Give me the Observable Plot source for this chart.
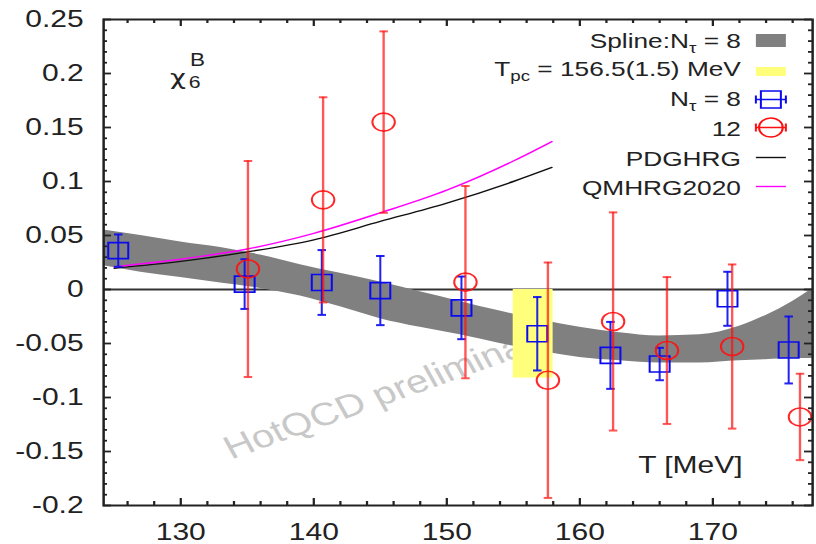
<!DOCTYPE html>
<html>
<head>
<meta charset="utf-8">
<script src="https://cdn.jsdelivr.net/npm/d3@7"></script>
<script src="https://cdn.jsdelivr.net/npm/@observablehq/plot@0.6"></script>
<style>
  html, body { margin: 0; padding: 0; background: #fff; }
  #chart svg { display: block; }
</style>
</head>
<body>
<div id="chart"></div>
<script>
// ---- spline band for N_tau = 8 (upper / lower edge) ----
const splineT  = [124.2, 127, 130, 133, 136, 139, 142, 145, 148, 151, 154, 157, 160, 163, 166, 169, 172, 174, 176, 177.5];
const splineHi = [0.055, 0.050, 0.044, 0.039, 0.032, 0.023, 0.015, 0.007, -0.002, -0.011, -0.020, -0.028, -0.035, -0.040, -0.043, -0.042, -0.034, -0.024, -0.011, 0.001];
const splineLo = [0.022, 0.016, 0.011, 0.006, 0.001, -0.006, -0.016, -0.027, -0.035, -0.042, -0.050, -0.057, -0.063, -0.066, -0.068, -0.068, -0.066, -0.065, -0.064, -0.064];

// ---- lattice data, N_tau = 8 ----
const nt8T   = [125.3, 134.8, 140.6, 145.0, 151.1, 156.8, 162.3, 166.0, 171.1, 175.7];
const nt8Val = [0.036, 0.005, 0.0065, -0.001, -0.017, -0.041, -0.061, -0.069, -0.0086, -0.056];
const nt8Err = [0.015, 0.023, 0.030, 0.032, 0.029, 0.034, 0.031, 0.015, 0.025, 0.031];

// ---- lattice data, N_tau = 12 ----
const nt12T   = [135.05, 140.7, 145.25, 151.4, 157.6, 162.5, 166.55, 171.45, 176.55];
const nt12Val = [0.019, 0.083, 0.155, 0.0068, -0.084, -0.0296, -0.0565, -0.0528, -0.118];
const nt12Err = [0.100, 0.095, 0.084, 0.089, 0.109, 0.101, 0.068, 0.076, 0.040];

// ---- hadron resonance gas curves ----
const hrgT   = [125, 130, 135, 140, 145, 150, 155, 157.9];
const pdgHRG = [0.0197, 0.026, 0.0348, 0.046, 0.063, 0.080, 0.100, 0.113];
const qmHRG  = [0.021, 0.028, 0.0375, 0.052, 0.071, 0.092, 0.119, 0.137];

// ---- pseudo-critical temperature band ----
const tpc = 156.5, tpcErr = 1.5;
const tpcBoxTop = 0, tpcBoxBottom = -0.082;

// ---- axes ----
const xDomain = [124.2, 177.5];
const yDomain = [-0.2, 0.25];
const xTicks = [130, 140, 150, 160, 170];
const yTicks = [-0.2, -0.15, -0.1, -0.05, 0, 0.05, 0.1, 0.15, 0.2, 0.25];
const xMinor = d3.range(126, 178, 2).filter(v => v % 10 !== 0);
const yMinor = d3.range(-20, 26).filter(i => i % 5 !== 0).map(i => i / 100);

const legendLabels = ["Spline:N_{τ} = 8", "T_{pc} = 156.5(1.5) MeV", "N_{τ} = 8", "12", "PDGHRG", "QMHRG2020"];
const xLabel = "T [MeV]";
const watermark = "HotQCD preliminary";

// tables for the marks
const band = splineT.map((T, i) => ({T, hi: splineHi[i], lo: splineLo[i]}));
const nt8 = nt8T.map((T, i) => ({T, v: nt8Val[i], e: nt8Err[i]}));
const nt12 = nt12T.map((T, i) => ({T, v: nt12Val[i], e: nt12Err[i]}));
const hrg = hrgT.map((T, i) => ({T, pdg: pdgHRG[i], qm: qmHRG[i]}));

// the drawing is laid out narrow and stretched horizontally to the output width
const OUT_W = 816, H = 544, S = 1.25, W = OUT_W / S;
const mLeft = 82.4, mRight = 3.2, mTop = 19, mBottom = 39;
const frameW = W - mLeft - mRight, frameH = H - mTop - mBottom;

const BLUE = "#0a0aef", RED = "#ff1010", GRAY = "#808080", YELLOW = "#ffff7c", MAGENTA = "#ff00ff";
const AXIS = "#222";

// custom symbols
const capSym = {draw(c) { c.moveTo(-3.4, 0); c.lineTo(3.4, 0); }};
const squareSym = {draw(c) { c.rect(-8, -8, 16, 16); }};
const circleSym = {draw(c) { c.moveTo(9, 0); c.arc(0, 0, 9, 0, 2 * Math.PI); }};
const swatchSpline = {draw(c) { c.rect(-12, -6.5, 24, 13); }};
const swatchTpc = {draw(c) { c.rect(-12, -4.5, 24, 9); }};
const keyLine = {draw(c) { c.moveTo(-12, 0); c.lineTo(12, 0); }};
const keyBlue = {draw(c) {
  c.moveTo(-12, 0); c.lineTo(12, 0);
  c.moveTo(-12, -4); c.lineTo(-12, 4);
  c.moveTo(12, -4); c.lineTo(12, 4);
  c.rect(-8, -8.5, 16, 17);
}};
const keyRed = {draw(c) {
  c.moveTo(-12, 0); c.lineTo(12, 0);
  c.moveTo(-12, -4); c.lineTo(-12, 4);
  c.moveTo(12, -4); c.lineTo(12, 4);
  c.moveTo(9.5, 0); c.arc(0, 0, 9.5, 0, 2 * Math.PI);
}};

const textDx = -57.4, symDx = -33.4;
const textRows = [14, 42, 72, 102, 132, 161];
const symRows = [21, 52, 80, 108, 138, 167];
const legendFont = 21;

const legendText = legendLabels.map((lab, i) => Plot.text([lab], {
  text: d => d, frameAnchor: "top-right", textAnchor: "end",
  dx: textDx, dy: textRows[i], fontSize: legendFont, fill: "#222"
}));

const legendSyms = [
  Plot.dot([0], {frameAnchor: "top-right", dx: symDx, dy: symRows[0], symbol: swatchSpline, fill: GRAY, stroke: "none"}),
  Plot.dot([0], {frameAnchor: "top-right", dx: symDx, dy: symRows[1], symbol: swatchTpc, fill: YELLOW, stroke: "none"}),
  Plot.dot([0], {frameAnchor: "top-right", dx: symDx, dy: symRows[2], symbol: keyBlue, fill: "none", stroke: BLUE, strokeWidth: 1.6}),
  Plot.dot([0], {frameAnchor: "top-right", dx: symDx, dy: symRows[3], symbol: keyRed, fill: "none", stroke: RED, strokeWidth: 1.6}),
  Plot.dot([0], {frameAnchor: "top-right", dx: symDx, dy: symRows[4], symbol: keyLine, fill: "none", stroke: "#111", strokeWidth: 1.4}),
  Plot.dot([0], {frameAnchor: "top-right", dx: symDx, dy: symRows[5], symbol: keyLine, fill: "none", stroke: MAGENTA, strokeWidth: 1.4})
];

const errorBars = (data, color, width, opacity) => [
  Plot.ruleX(data, {x: "T", y1: d => d.v - d.e, y2: d => d.v + d.e, stroke: color, strokeWidth: width, strokeOpacity: opacity}),
  Plot.dot(data, {x: "T", y: d => d.v + d.e, symbol: capSym, fill: "none", stroke: color, strokeWidth: 2, strokeOpacity: opacity}),
  Plot.dot(data, {x: "T", y: d => d.v - d.e, symbol: capSym, fill: "none", stroke: color, strokeWidth: 2, strokeOpacity: opacity})
];

const svg = Plot.plot({
  width: W,
  height: H,
  marginLeft: mLeft,
  marginRight: mRight,
  marginTop: mTop,
  marginBottom: mBottom,
  style: {
    fontFamily: "'Liberation Sans', Arial, Helvetica, sans-serif",
    fontSize: "24px",
    color: AXIS,
    background: "#fff",
    overflow: "visible"
  },
  x: {domain: xDomain, ticks: xTicks, tickSize: 0, tickPadding: 17, tickFormat: d => String(d), label: null},
  y: {domain: yDomain, ticks: yTicks, tickSize: 0, tickPadding: 16, tickFormat: d => String(+d.toFixed(2)), label: null},
  marks: [
    // watermark
    Plot.text([watermark], {
      text: d => d, frameAnchor: "bottom-left", textAnchor: "start",
      dx: 102, dy: -46, rotate: -24, fontSize: 32, fill: "#c8c8c8"
    }),
    // zero line
    Plot.ruleY([0], {stroke: "#333", strokeWidth: 1.8}),
    // spline band
    Plot.areaY(band, {x: "T", y1: "lo", y2: "hi", fill: GRAY, curve: "monotone-x"}),
    // T_pc band
    Plot.rect([{x1: tpc - tpcErr, x2: tpc + tpcErr, y1: tpcBoxBottom, y2: tpcBoxTop}],
      {x1: "x1", x2: "x2", y1: "y1", y2: "y2", fill: YELLOW}),
    // HRG curves
    Plot.line(hrg, {x: "T", y: "pdg", stroke: "#111", strokeWidth: 1.4, curve: "monotone-x"}),
    Plot.line(hrg, {x: "T", y: "qm", stroke: MAGENTA, strokeWidth: 1.4, curve: "monotone-x"}),
    // N_tau = 8
    ...errorBars(nt8, BLUE, 1.6, 0.9),
    Plot.dot(nt8, {x: "T", y: "v", symbol: squareSym, fill: "none", stroke: BLUE, strokeWidth: 1.6}),
    // N_tau = 12
    ...errorBars(nt12, RED, 1.9, 0.7),
    Plot.dot(nt12, {x: "T", y: "v", symbol: circleSym, fill: "none", stroke: RED, strokeWidth: 1.6, strokeOpacity: 0.9}),
    // frame and inward ticks on all four sides
    Plot.frame({stroke: AXIS, strokeWidth: 2}),
    Plot.tickX(xTicks, {x: d => d, insetTop: frameH - 7, stroke: AXIS, strokeWidth: 1.8}),
    Plot.tickX(xTicks, {x: d => d, insetBottom: frameH - 7, stroke: AXIS, strokeWidth: 1.8}),
    Plot.tickX(xMinor, {x: d => d, insetTop: frameH - 4, stroke: AXIS, strokeWidth: 1.8}),
    Plot.tickX(xMinor, {x: d => d, insetBottom: frameH - 4, stroke: AXIS, strokeWidth: 1.8}),
    Plot.tickY(yTicks, {y: d => d, insetRight: frameW - 6.4, stroke: AXIS, strokeWidth: 1.8}),
    Plot.tickY(yTicks, {y: d => d, insetLeft: frameW - 6.4, stroke: AXIS, strokeWidth: 1.8}),
    Plot.tickY(yMinor, {y: d => d, insetRight: frameW - 3.2, stroke: AXIS, strokeWidth: 1.8}),
    Plot.tickY(yMinor, {y: d => d, insetLeft: frameW - 3.2, stroke: AXIS, strokeWidth: 1.8}),
    // observable label
    Plot.text(["χ"], {text: d => d, frameAnchor: "top-left", textAnchor: "start", dx: 53, dy: 50, fontSize: 22, fontFamily: "'DejaVu Sans', sans-serif", fill: "#222"}),
    Plot.text(["6"], {text: d => d, frameAnchor: "top-left", textAnchor: "start", dx: 68, dy: 56, fontSize: 17, fill: "#222"}),
    Plot.text(["B"], {text: d => d, frameAnchor: "top-left", textAnchor: "start", dx: 69, dy: 34, fontSize: 18, fill: "#222"}),
    // x-axis title inside the frame
    Plot.text([xLabel], {text: d => d, frameAnchor: "bottom-right", textAnchor: "end", dx: -56, dy: -33, fontSize: 24, fill: "#222"}),
    // legend
    ...legendText,
    ...legendSyms
  ]
});

// subscripts written as _{...}
d3.select(svg).selectAll("text").each(function () {
  const s = this.textContent;
  if (!s.includes("_{")) return;
  const parts = s.split(/(_\{[^}]*\})/).filter(p => p);
  while (this.firstChild) this.removeChild(this.firstChild);
  let shifted = false;
  for (const p of parts) {
    const t = document.createElementNS("http://www.w3.org/2000/svg", "tspan");
    if (p.startsWith("_{")) {
      t.textContent = p.slice(2, -1);
      t.setAttribute("font-size", 15);
      t.setAttribute("dy", 5);
      shifted = true;
    } else {
      t.textContent = p;
      if (shifted) { t.setAttribute("dy", -5); shifted = false; }
    }
    this.appendChild(t);
  }
});

// stretch horizontally to the output size
svg.setAttribute("preserveAspectRatio", "none");
svg.setAttribute("width", OUT_W);
svg.setAttribute("height", H);
svg.style.width = OUT_W + "px";
svg.style.height = H + "px";
svg.style.maxWidth = "none";

document.getElementById("chart").appendChild(svg);
</script>
</body>
</html>
